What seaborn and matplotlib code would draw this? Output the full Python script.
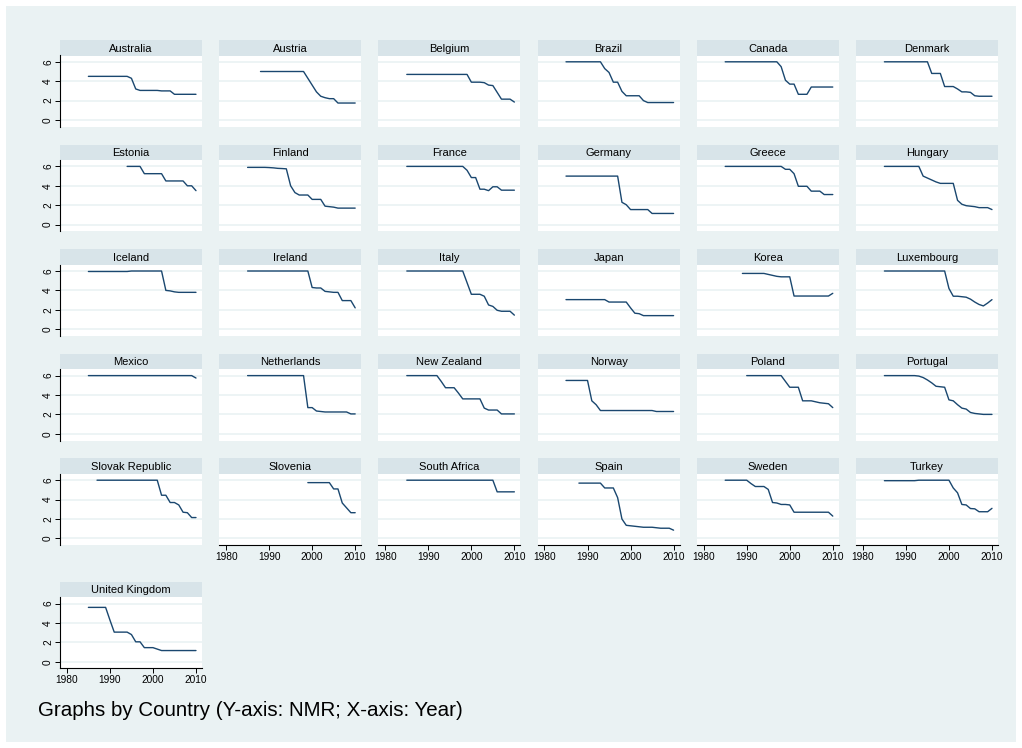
import matplotlib
matplotlib.use("Agg")
import matplotlib.pyplot as plt
from matplotlib.patches import Rectangle
import seaborn as sns
import pandas as pd

sns.set_style("white")
plt.rcParams["font.family"] = ["Liberation Sans", "DejaVu Sans"]
plt.rcParams["text.color"] = "black"
plt.rcParams["xtick.color"] = "black"
plt.rcParams["ytick.color"] = "black"
plt.rcParams["xtick.labelcolor"] = "black"
plt.rcParams["ytick.labelcolor"] = "black"

# ---------------------------------------------------------------
# Data: NMR by year, one list per country
# ---------------------------------------------------------------
countries = ["Australia", "Austria", "Belgium", "Brazil", "Canada", "Denmark",
             "Estonia", "Finland", "France", "Germany", "Greece", "Hungary",
             "Iceland", "Ireland", "Italy", "Japan", "Korea", "Luxembourg",
             "Mexico", "Netherlands", "New Zealand", "Norway", "Poland", "Portugal",
             "Slovak Republic", "Slovenia", "South Africa", "Spain", "Sweden", "Turkey",
             "United Kingdom"]
start_years = [1985, 1988, 1985, 1985, 1985, 1985,
               1994, 1985, 1985, 1985, 1985, 1985,
               1985, 1985, 1985, 1985, 1989, 1985,
               1985, 1985, 1985, 1985, 1990, 1985,
               1987, 1999, 1985, 1988, 1985, 1985,
               1985]

australia = [4.5, 4.5, 4.5, 4.5, 4.5, 4.5, 4.5, 4.5, 4.5, 4.5, 4.3, 3.2, 3.05,
             3.05, 3.05, 3.05, 3.05, 3.0, 3.0, 3.0, 2.65, 2.65, 2.65, 2.65, 2.65, 2.65]
austria = [5.0, 5.0, 5.0, 5.0, 5.0, 5.0, 5.0, 5.0, 5.0, 5.0, 5.0, 4.3, 3.6,
           2.9, 2.45, 2.3, 2.2, 2.2, 1.75, 1.75, 1.75, 1.75, 1.75]
belgium = [4.7, 4.7, 4.7, 4.7, 4.7, 4.7, 4.7, 4.7, 4.7, 4.7, 4.7, 4.7, 4.7,
           4.7, 4.7, 3.9, 3.9, 3.9, 3.85, 3.6, 3.55, 2.85, 2.15, 2.15, 2.15, 1.85]
brazil = [6.0, 6.0, 6.0, 6.0, 6.0, 6.0, 6.0, 6.0, 6.0, 5.3, 4.9, 3.9, 3.9,
          2.95, 2.5, 2.5, 2.5, 2.5, 2.0, 1.8, 1.8, 1.8, 1.8, 1.8, 1.8, 1.8]
canada = [6.0, 6.0, 6.0, 6.0, 6.0, 6.0, 6.0, 6.0, 6.0, 6.0, 6.0, 6.0, 6.0,
          5.5, 4.1, 3.7, 3.7, 2.65, 2.65, 2.65, 3.4, 3.4, 3.4, 3.4, 3.4, 3.4]
denmark = [6.0, 6.0, 6.0, 6.0, 6.0, 6.0, 6.0, 6.0, 6.0, 6.0, 6.0, 4.8, 4.8,
           4.8, 3.45, 3.45, 3.45, 3.2, 2.9, 2.9, 2.85, 2.5, 2.45, 2.45, 2.45, 2.45]
estonia = [6.0, 6.0, 6.0, 6.0, 5.25, 5.25, 5.25, 5.25, 5.25, 4.5, 4.5, 4.5,
           4.5, 4.5, 4.0, 4.0, 3.5]
finland = [5.9, 5.9, 5.9, 5.9, 5.9, 5.88, 5.85, 5.8, 5.78, 5.75, 4.0, 3.3, 3.05,
           3.05, 3.05, 2.6, 2.6, 2.6, 1.9, 1.85, 1.8, 1.7, 1.7, 1.7, 1.7, 1.7]
france = [6.0, 6.0, 6.0, 6.0, 6.0, 6.0, 6.0, 6.0, 6.0, 6.0, 6.0, 6.0, 6.0,
          6.0, 5.6, 4.85, 4.85, 3.65, 3.65, 3.5, 3.9, 3.9, 3.55, 3.55, 3.55, 3.55]
germany = [5.0, 5.0, 5.0, 5.0, 5.0, 5.0, 5.0, 5.0, 5.0, 5.0, 5.0, 5.0, 5.0,
           2.3, 2.05, 1.55, 1.55, 1.55, 1.55, 1.55, 1.15, 1.15, 1.15, 1.15, 1.15, 1.15]
greece = [6.0, 6.0, 6.0, 6.0, 6.0, 6.0, 6.0, 6.0, 6.0, 6.0, 6.0, 6.0, 6.0,
          6.0, 5.7, 5.7, 5.25, 3.95, 3.95, 3.95, 3.45, 3.45, 3.45, 3.1, 3.1, 3.1]
hungary = [6.0, 6.0, 6.0, 6.0, 6.0, 6.0, 6.0, 6.0, 6.0, 5.0, 4.8, 4.6, 4.4,
           4.25, 4.25, 4.25, 4.25, 2.5, 2.1, 1.95, 1.9, 1.85, 1.75, 1.75, 1.75, 1.55]
iceland = [5.95, 5.95, 5.95, 5.95, 5.95, 5.95, 5.95, 5.95, 5.95, 5.95, 6.0, 6.0, 6.0,
           6.0, 6.0, 6.0, 6.0, 6.0, 4.0, 3.95, 3.85, 3.8, 3.8, 3.8, 3.8, 3.8]
ireland = [6.0, 6.0, 6.0, 6.0, 6.0, 6.0, 6.0, 6.0, 6.0, 6.0, 6.0, 6.0, 6.0,
           6.0, 6.0, 4.3, 4.25, 4.25, 3.9, 3.85, 3.8, 3.8, 2.95, 2.95, 2.95, 2.2]
italy = [6.0, 6.0, 6.0, 6.0, 6.0, 6.0, 6.0, 6.0, 6.0, 6.0, 6.0, 6.0, 6.0,
         6.0, 4.8, 3.6, 3.6, 3.6, 3.4, 2.5, 2.35, 1.95, 1.85, 1.85, 1.85, 1.45]
japan = [3.05, 3.05, 3.05, 3.05, 3.05, 3.05, 3.05, 3.05, 3.05, 3.05, 2.8, 2.8, 2.8,
         2.8, 2.8, 2.2, 1.65, 1.6, 1.4, 1.4, 1.4, 1.4, 1.4, 1.4, 1.4, 1.4]
korea = [5.75, 5.75, 5.75, 5.75, 5.75, 5.75, 5.65, 5.55, 5.45, 5.4, 5.4, 5.4,
         3.42, 3.42, 3.42, 3.42, 3.42, 3.42, 3.42, 3.42, 3.42, 3.7]
luxembourg = [6.0, 6.0, 6.0, 6.0, 6.0, 6.0, 6.0, 6.0, 6.0, 6.0, 6.0, 6.0, 6.0,
              6.0, 6.0, 4.2, 3.4, 3.4, 3.35, 3.3, 3.1, 2.8, 2.55, 2.4, 2.7, 3.05]
mexico = [6.0, 6.0, 6.0, 6.0, 6.0, 6.0, 6.0, 6.0, 6.0, 6.0, 6.0, 6.0, 6.0,
          6.0, 6.0, 6.0, 6.0, 6.0, 6.0, 6.0, 6.0, 6.0, 6.0, 6.0, 6.0, 5.75]
netherlands = [6.0, 6.0, 6.0, 6.0, 6.0, 6.0, 6.0, 6.0, 6.0, 6.0, 6.0, 6.0, 6.0,
               6.0, 2.7, 2.7, 2.35, 2.3, 2.25, 2.25, 2.25, 2.25, 2.25, 2.25, 2.05, 2.05]
new_zealand = [6.0, 6.0, 6.0, 6.0, 6.0, 6.0, 6.0, 6.0, 5.4, 4.75, 4.75, 4.75, 4.2,
               3.6, 3.6, 3.6, 3.6, 3.6, 2.65, 2.45, 2.45, 2.45, 2.05, 2.05, 2.05, 2.05]
norway = [5.5, 5.5, 5.5, 5.5, 5.5, 5.5, 3.4, 3.0, 2.4, 2.4, 2.4, 2.4, 2.4,
          2.4, 2.4, 2.4, 2.4, 2.4, 2.4, 2.4, 2.4, 2.3, 2.3, 2.3, 2.3, 2.3]
poland = [6.0, 6.0, 6.0, 6.0, 6.0, 6.0, 6.0, 6.0, 6.0, 5.4, 4.8, 4.8, 4.8,
          3.4, 3.4, 3.4, 3.3, 3.2, 3.15, 3.1, 2.7]
portugal = [6.0, 6.0, 6.0, 6.0, 6.0, 6.0, 6.0, 6.0, 5.95, 5.8, 5.55, 5.25, 4.9,
            4.85, 4.8, 3.5, 3.4, 3.0, 2.65, 2.55, 2.2, 2.1, 2.05, 2.0, 2.0, 2.0]
slovak_republic = [6.0, 6.0, 6.0, 6.0, 6.0, 6.0, 6.0, 6.0, 6.0, 6.0, 6.0, 6.0,
                   6.0, 6.0, 6.0, 4.45, 4.45, 3.7, 3.7, 3.45, 2.7, 2.65, 2.15, 2.15]
slovenia = [5.75, 5.75, 5.75, 5.75, 5.75, 5.75, 5.1, 5.1, 3.65, 3.15, 2.65, 2.65]
south_africa = [6.0, 6.0, 6.0, 6.0, 6.0, 6.0, 6.0, 6.0, 6.0, 6.0, 6.0, 6.0, 6.0,
                6.0, 6.0, 6.0, 6.0, 6.0, 6.0, 6.0, 6.0, 4.8, 4.8, 4.8, 4.8, 4.8]
spain = [5.7, 5.7, 5.7, 5.7, 5.7, 5.7, 5.2, 5.2, 5.2, 4.2, 2.0, 1.35, 1.3,
         1.25, 1.2, 1.15, 1.15, 1.15, 1.1, 1.05, 1.05, 1.05, 0.85]
sweden = [6.0, 6.0, 6.0, 6.0, 6.0, 6.0, 5.65, 5.35, 5.35, 5.35, 5.05, 3.7, 3.65,
          3.5, 3.5, 3.45, 2.7, 2.7, 2.7, 2.7, 2.7, 2.7, 2.7, 2.7, 2.7, 2.3]
turkey = [5.95, 5.95, 5.95, 5.95, 5.95, 5.95, 5.95, 5.95, 6.0, 6.0, 6.0, 6.0, 6.0,
          6.0, 6.0, 6.0, 5.2, 4.7, 3.5, 3.45, 3.08, 3.05, 2.75, 2.75, 2.75, 3.1]
united_kingdom = [5.6, 5.6, 5.6, 5.6, 5.6, 4.3, 3.05, 3.05, 3.05, 3.05, 2.8, 2.05, 2.05,
                  1.45, 1.45, 1.45, 1.3, 1.15, 1.15, 1.15, 1.15, 1.15, 1.15, 1.15, 1.15, 1.15]

series = [australia, austria, belgium, brazil, canada, denmark,
          estonia, finland, france, germany, greece, hungary,
          iceland, ireland, italy, japan, korea, luxembourg,
          mexico, netherlands, new_zealand, norway, poland, portugal,
          slovak_republic, slovenia, south_africa, spain, sweden, turkey,
          united_kingdom]

x_ticks = [1980, 1990, 2000, 2010]
y_ticks = [0, 2, 4, 6]

rows = []
for name, y0, vals in zip(countries, start_years, series):
    for k, v in enumerate(vals):
        rows.append({"Country": name, "Year": y0 + k, "NMR": v})
df = pd.DataFrame(rows)

# ---------------------------------------------------------------
# Stata-like small multiples, laid out by hand
# ---------------------------------------------------------------
W, H = 1022, 748
BG = "#EAF2F3"
STRIP = "#D8E4E9"
LINE = "#1A476F"

fig = plt.figure(figsize=(W / 100, H / 100), dpi=100)
fig.patch.set_facecolor("white")
fig.patches.append(Rectangle((6 / W, 6 / H), 1 - 12 / W, 1 - 12 / H,
                             transform=fig.transFigure, facecolor=BG,
                             edgecolor="none", zorder=-10))

panel_w, strip_h, plot_h = 142, 15.5, 71.2

for i, name in enumerate(countries):
    r, c = divmod(i, 6)
    top = 40 + r * 104.6 if r < 5 else 581.7
    left = 60 + c * 159.2

    sax = fig.add_axes([left / W, 1 - (top + strip_h) / H, panel_w / W, strip_h / H])
    sax.set_facecolor(STRIP)
    sax.set_xticks([])
    sax.set_yticks([])
    for s in sax.spines.values():
        s.set_visible(False)
    sax.text(0.5, 0.45, name, ha="center", va="center", fontsize=8,
             color="black", transform=sax.transAxes)

    ax = fig.add_axes([left / W, 1 - (top + strip_h + plot_h) / H, panel_w / W, plot_h / H])
    ax.set_facecolor("white")
    sns.lineplot(data=df[df["Country"] == name], x="Year", y="NMR", ax=ax,
                 color=LINE, lw=1.0)
    ax.set_xlim(1978.4, 2011.4)
    ax.set_ylim(-0.69, 6.65)
    ax.set_xticks(x_ticks)
    ax.set_yticks(y_ticks)
    ax.grid(axis="y", color=BG, lw=1.2)
    ax.grid(axis="x", visible=False)
    ax.set_xlabel("")
    ax.set_ylabel("")
    for s in ax.spines.values():
        s.set_visible(False)

    has_y = c == 0
    has_x = i >= 25
    if has_y:
        ax.spines["left"].set_visible(True)
        ax.spines["left"].set_color("black")
        ax.spines["left"].set_linewidth(0.8)
        ax.tick_params(axis="y", left=True, labelleft=True, length=3.5, width=0.7,
                       pad=1.5, labelsize=7.3, labelrotation=90)
        for lab in ax.get_yticklabels():
            lab.set_va("center")
    else:
        ax.tick_params(axis="y", left=False, labelleft=False)
    if has_x:
        ax.spines["bottom"].set_visible(True)
        ax.spines["bottom"].set_color("black")
        ax.spines["bottom"].set_linewidth(0.8)
        ax.tick_params(axis="x", bottom=True, labelbottom=True, length=3.5, width=0.7,
                       pad=1.5, labelsize=7.3)
    else:
        ax.tick_params(axis="x", bottom=False, labelbottom=False)

fig.text(38 / W, 1 - 710 / H, "Graphs by Country (Y-axis: NMR; X-axis: Year)",
         fontsize=14.8, va="center", ha="left", color="black")

plt.savefig("out.png", dpi=100, facecolor=fig.get_facecolor())
